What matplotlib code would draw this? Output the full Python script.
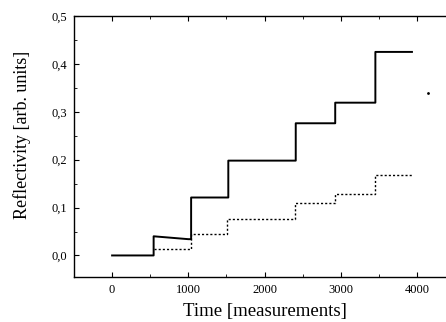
import matplotlib
matplotlib.use("Agg")
import matplotlib.pyplot as plt
from matplotlib.ticker import MultipleLocator, FuncFormatter

# Solid curve vertices (time, reflectivity)
solid_t = [0, 545, 545, 1000, 1037, 1037, 1525, 1525, 2410, 2410, 2928, 2928, 3455, 3455, 3935]
solid_r = [0.0, 0.0, 0.040, 0.034, 0.034, 0.121, 0.121, 0.198, 0.198, 0.276, 0.276, 0.319, 0.319, 0.425, 0.425]

# Dotted curve step times and levels
dot_t = [545, 1037, 1512, 2400, 2928, 3450, 3930]
dot_r = [0.014, 0.045, 0.076, 0.109, 0.129, 0.168, 0.168]

# Stray point
stray_t = [4140]
stray_r = [0.339]

xticks = [0, 1000, 2000, 3000, 4000]
yticks = [0.0, 0.1, 0.2, 0.3, 0.4, 0.5]

plt.rcParams['font.family'] = ['Liberation Serif', 'DejaVu Serif']

fig = plt.figure(figsize=(4.46, 3.22), dpi=100)
ax = fig.add_axes([74/446, 1-277/322, (455-74)/446, (277-16)/322])

ax.plot(solid_t, solid_r, color='black', lw=1.4)
ax.step(dot_t, dot_r, where='post', color='black', lw=1.0, linestyle=(0, (1.5, 1.5)))
ax.plot(stray_t, stray_r, marker='.', color='black', ms=2, linestyle='none')

ax.set_xlim(-500, 4500)
ax.set_ylim(-0.045, 0.5)
ax.set_xticks(xticks)
ax.set_yticks(yticks)
ax.xaxis.set_minor_locator(MultipleLocator(500))
ax.yaxis.set_minor_locator(MultipleLocator(0.05))
ax.yaxis.set_major_formatter(FuncFormatter(lambda v, p: f"{v:.1f}".replace('.', ',')))
ax.tick_params(which='both', direction='in', top=True, right=True, labelsize=9)
ax.tick_params(which='major', length=3.5)
ax.tick_params(which='minor', length=2)
ax.tick_params(axis='y', pad=5)
ax.tick_params(axis='x', pad=5)
for s in ax.spines.values():
    s.set_linewidth(1.0)

ax.set_xlabel('Time [measurements]', fontsize=13.5, labelpad=5)
ax.set_ylabel('Reflectivity [arb. units]', fontsize=13, va='center')
ax.yaxis.set_label_coords(-0.136, 0.544)

fig.savefig('out.png', dpi=100)
